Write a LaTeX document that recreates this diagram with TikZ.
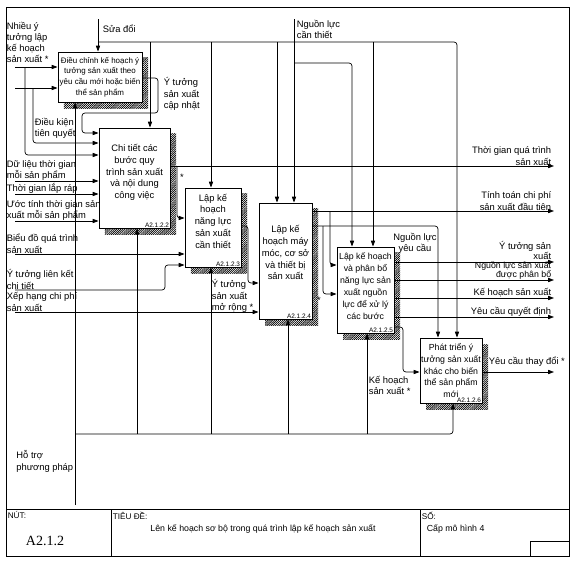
\documentclass[tikz,border=0pt]{standalone}
\usepackage{fontspec}
\setmainfont{Liberation Sans}
\newfontfamily\idserif{Liberation Serif}
\usetikzlibrary{arrows.meta,shadows,patterns}
\pgfdeclarepatternformonly{densehatch}{\pgfqpoint{-0.5pt}{-0.5pt}}{\pgfqpoint{2.4pt}{2.4pt}}{\pgfqpoint{1.8pt}{1.8pt}}{%
  \pgfsetlinewidth{0.5pt}%
  \pgfpathmoveto{\pgfqpoint{-0.2pt}{-0.2pt}}%
  \pgfpathlineto{\pgfqpoint{2pt}{2pt}}%
  \pgfusepath{stroke}}

\begin{document}
\begin{tikzpicture}[
    x=0.03cm, y=-0.03cm,
    font=\fontsize{8}{9.5}\selectfont,
    proc/.style={draw, line width=0.8pt, fill=white, align=center, inner sep=1pt,
                 font=\fontsize{8}{10}\selectfont,
                 general shadow={shadow xshift=0.18cm, shadow yshift=-0.18cm, pattern=densehatch},
                 path picture={\fill (path picture bounding box.north west) -- ++(3.5pt,0pt) -- ++(-3.5pt,-3.5pt) -- cycle;}},
    boxid/.style={anchor=south east, inner sep=1pt, font=\fontsize{5.5}{6}\selectfont},
    flow/.style={-{Triangle[length=5pt,width=3.6pt]}, line width=0.6pt, rounded corners=2.5pt},
    lbl/.style={inner sep=0.5pt, align=left},
    rlbl/.style={inner sep=0.5pt, align=right, anchor=south east},
    frm/.style={line width=0.8pt},
]
  \useasboundingbox (0,0) rectangle (576,561);
  %% frame and title block
  \draw[frm] (6,7) rectangle (569,556);
  \draw[frm] (6,509) -- (569,509); \draw[frm] (111,509) -- (111,556); \draw[frm] (420,509) -- (420,556);
  \draw[frm] (530,541) rectangle (569,556);
  \node[lbl, anchor=north west, font=\fontsize{7}{8}\selectfont] (nut) at (7,511) {NÚT:};
  \node[font=\idserif\fontsize{12}{14}\selectfont] (nodeno) at (45,541) {A2.1.2};
  \node[lbl, anchor=north west, font=\fontsize{7}{8}\selectfont] (tieude) at (112,511) {TIÊU ĐỀ:};
  \node[font=\fontsize{7.5}{9}\selectfont] (title) at (263,529) {Lên kế hoạch sơ bộ trong quá trình lập kế hoạch sản xuất};
  \node[lbl, anchor=north west, font=\fontsize{7}{8}\selectfont] (so) at (421,511) {SỐ:};
  \node[lbl, anchor=west, font=\fontsize{7.5}{9}\selectfont] (level) at (426,529) {Cấp mô hình 4};

  %% activities
  \node[proc, minimum width=2.52cm, minimum height=1.5cm, font=\fontsize{6.8}{9.2}\selectfont] (b1) at (100,77)
        {Điều chỉnh kế hoạch ý\\tưởng sản xuất theo\\yêu cầu mới hoặc biến\\thể sản phẩm};
  \node[proc, minimum width=2.13cm, minimum height=3cm, label={[boxid]south east:A2.1.2.2}] (b2) at (134.5,178)
        {Chi tiết các\\bước quy\\trình sản xuất\\và nội dung\\công việc\\[1pt]\mbox{}};
  \node[proc, minimum width=1.68cm, minimum height=2.37cm, label={[boxid]south east:A2.1.2.3}] (b3) at (213,227.5)
        {Lập kế\\hoạch\\năng lực\\sản xuất\\cần thiết\\[1pt]\mbox{}};
  \node[proc, minimum width=1.59cm, minimum height=3.48cm, label={[boxid]south east:A2.1.2.4}] (b4) at (285.5,261)
        {Lập kế\\hoạch máy\\móc, cơ sở\\và thiết bị\\sản xuất\\[4pt]\mbox{}};
  \node[proc, minimum width=1.71cm, minimum height=2.58cm, font=\fontsize{7.5}{10.2}\selectfont, label={[boxid]south east:A2.1.2.5}] (b5) at (365.5,290)
        {Lập kế hoạch\\và phân bổ\\năng lực sản\\xuất nguồn\\lực để xử lý\\các bước\\[-3pt]\mbox{}};
  \node[proc, minimum width=1.86cm, minimum height=1.95cm, font=\fontsize{7.5}{10.2}\selectfont, label={[boxid]south east:A2.1.2.6}] (b6) at (451,370.5)
        {Phát triển ý\\tưởng sản xuất\\khác cho biến\\thể sản phẩm\\mới\hspace{5mm}};

  %% controls
  \coordinate (sua) at (98,19); \coordinate (suaJ) at (98,42);
  \coordinate (ngl) at (294,19); \coordinate (nglJ) at (294,63);
  \draw[flow] (sua) -- (b1.north -| sua);
  \draw[flow] (suaJ) -| ([xshift=0.18cm]b6.north);
  \draw[flow] (suaJ -| 150,0) -- (b2.north -| 150,0); \draw[flow] (suaJ -| 211,0) -- (b3.north -| 211,0);
  \draw[flow] (suaJ -| 277,0) -- (b4.north -| 277,0); \draw[flow] (suaJ -| 373,0) -- (b5.north -| 373,0);
  \draw[flow] (ngl) -- (b4.north -| ngl);
  \draw[flow] (nglJ) -| (b5.north -| 352,0);
  \node[lbl, anchor=west] (lsua) at (102,29) {Sửa đổi};
  \node[lbl, anchor=north west] (lngl) at (296,19) {Nguồn lực\\cần thiết};

  %% inputs
  \coordinate (in1) at (15,67); \coordinate (in1J) at (25,67);
  \coordinate (in2) at (15,88); \coordinate (in2J) at (33,88);
  \draw[flow] (in1) -- (b1.west |- in1); \draw[flow] (in2) -- (b1.west |- in2);
  \draw[flow] (in1J) |- (b2.west |- 0,155);
  \draw[flow] (in2J) |- (b2.west |- 0,143);
  \draw[flow] (b1.east |- 0,78) -- (158,78) |- (82,113) |- (b2.west |- 0,133);
  \coordinate (in3) at (15,181); \coordinate (in4) at (15,194); \coordinate (in5) at (15,221);
  \draw[flow] (in3) -- (b2.west |- in3); \draw[flow] (in4) -- (b2.west |- in4); \draw[flow] (in5) -- (b2.west |- in5);
  \coordinate (in6) at (15,254); \coordinate (in7) at (15,290); \coordinate (in8) at (15,312);
  \draw[flow] (in6) -- (b3.west |- in6);
  \draw[flow] (in7) -- (165,290) |- (b3.west |- 0,265);
  \draw[flow] (in8) -- (b4.west |- in8);
  \node[lbl, anchor=north west] (lin1) at (6,21) {Nhiều ý\\tưởng lập\\kế hoạch\\sản xuất *};
  \node[lbl, anchor=north west] (lin2) at (34,117) {Điều kiện\\tiên quyết};
  \node[lbl, anchor=south west] (lin3) at (6,181) {Dữ liệu thời gian\\mỗi sản phẩm};
  \node[lbl, anchor=south west] (lin4) at (6,194) {Thời gian lắp ráp};
  \node[lbl, anchor=south west] (lin5) at (6,221) {Ước tính thời gian sản\\xuất mỗi sản phẩm};
  \node[lbl, anchor=south west] (lin6) at (6,254) {Biểu đồ quá trình\\sản xuất};
  \node[lbl, anchor=south west] (lin7) at (6,290) {Ý tưởng liên kết\\chi tiết};
  \node[lbl, anchor=south west] (lin8) at (6,312) {Xếp hạng chi phí\\sản xuất};
  \node[lbl, anchor=north west] (lb1) at (163,77) {Ý tưởng\\sản xuất\\cập nhật};

  %% outputs
  \coordinate (o1) at (554,166); \coordinate (b2J) at (177,166);
  \draw[flow] (b2.east |- o1) -- (o1);
  \draw[flow] (b2J) |- (b3.west |- 0,218);
  \draw[flow] (b3.east |- 0,226) -- (248,226) |- (b4.west |- 0,283);
  \coordinate (o2) at (554,211); \coordinate (b4J1) at (330,211); \coordinate (b4J2) at (323,226);
  \draw[flow] (b4.east |- o2) -- (o2);
  \draw[flow] (b4J1) |- (b5.west |- 0,265);
  \draw[flow] (b4.east |- b4J2) -| ([xshift=-0.39cm]b6.north);
  \draw[flow] (b4J2) |- (b5.west |- 0,294);
  \coordinate (o3) at (554,262); \coordinate (o4) at (554,280); \coordinate (o5) at (554,298); \coordinate (o6) at (554,317);
  \draw[flow] (b5.east |- o3) -- (o3); \draw[flow] (b5.east |- o4) -- (o4);
  \draw[flow] (b5.east |- o5) -- (o5); \draw[flow] (b5.east |- o6) -- (o6);
  \draw[flow] (b5.east |- 0,327) -- (403,327) |- (b6.west |- 0,372);
  \coordinate (o7) at (554,372);
  \draw[flow] (b6.east |- o7) -- (o7);
  \node[inner sep=0pt] (st1) at (182,177) {*};
  \node[inner sep=0pt] (st2) at (319,300) {*};
  \node[rlbl] (lo1) at (552,166) {Thời gian quá trình\\sản xuất};
  \node[rlbl] (lo2) at (552,211) {Tính toán chi phí\\sản xuất đầu tiên};
  \node[rlbl, font=\fontsize{8}{8.5}\selectfont] (lo3) at (552,260.5) {Ý tưởng sản\\xuất};
  \node[rlbl, font=\fontsize{7.5}{7.8}\selectfont] (lo4) at (552,280) {Nguồn lực sản xuất\\được phân bổ};
  \node[rlbl] (lo5) at (552,298) {Kế hoạch sản xuất};
  \node[rlbl] (lo6) at (552,317) {Yêu cầu quyết định};
  \node[lbl, anchor=south west] (lo7) at (488,367) {Yêu cầu thay đổi *};
  \node[align=center, inner sep=0.5pt] (lnyc) at (415,243) {Nguồn lực\\yêu cầu};
  \node[lbl, anchor=north west] (lmr) at (211,279) {Ý tưởng\\sản xuất\\mở rộng *};

  %% mechanisms
  \coordinate (mec) at (75,505); \coordinate (mecJ) at (75,434);
  \draw[flow] (mec) -- (b1.south -| mec);
  \draw[flow] (mecJ) -| ([xshift=0.06cm]b6.south);
  \draw[flow] (mecJ -| 137,0) -- (b2.south -| 137,0); \draw[flow] (mecJ -| 211,0) -- (b3.south -| 211,0);
  \draw[flow] (mecJ -| 288,0) -- (b4.south -| 288,0); \draw[flow] (mecJ -| 367,0) -- (b5.south -| 367,0);
  \node[lbl, anchor=north east] (lht) at (74,450) {Hỗ trợ\\phương pháp};
  \node[lbl, anchor=north west] (lkh) at (368,375) {Kế hoạch\\sản xuất *};
\end{tikzpicture}
\end{document}
